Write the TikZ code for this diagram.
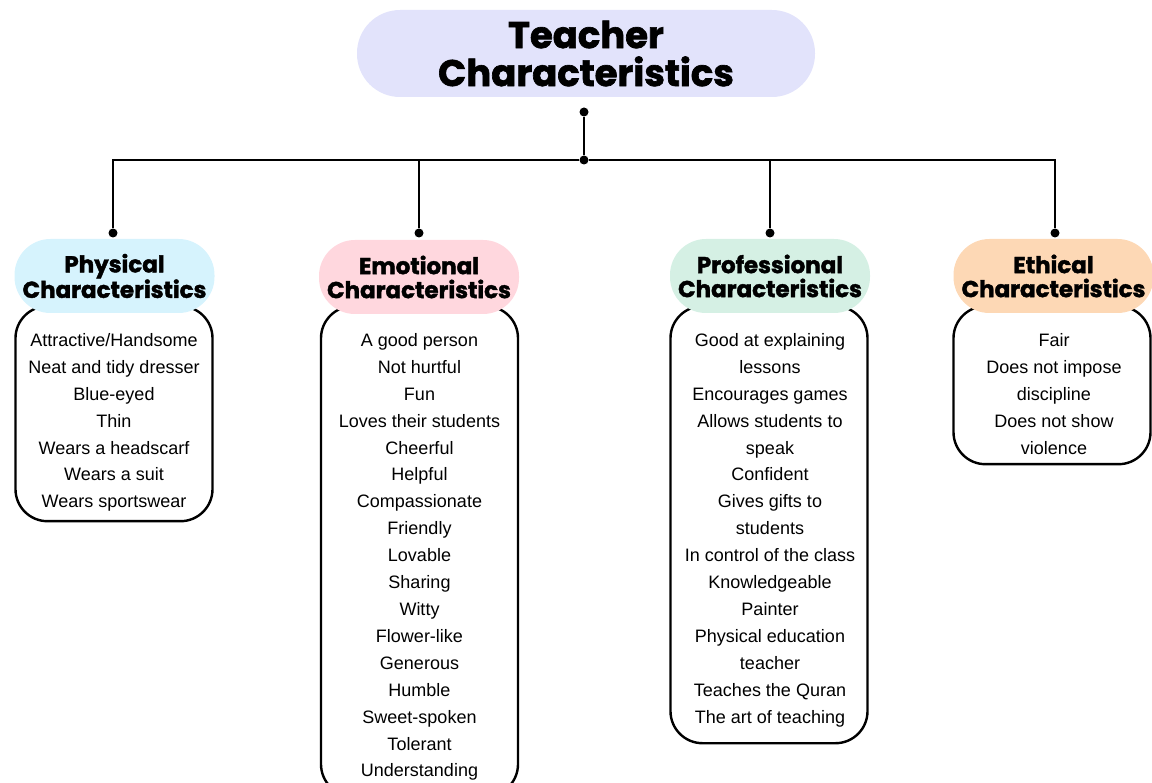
\documentclass[tikz,border=0pt]{standalone}
\usepackage{fontspec}
\setmainfont{Liberation Sans}
\newfontfamily\headfont{Poppins}[BoldFeatures={FakeBold=1.8}]
\usetikzlibrary{positioning, calc}
\definecolor{titlelav}{RGB}{226, 227, 251}
\definecolor{physcyan}{RGB}{214, 243, 253}
\definecolor{emopink}{RGB}{255, 215, 222}
\definecolor{profmint}{RGB}{213, 240, 228}
\definecolor{ethpeach}{RGB}{253, 216, 181}

\begin{document}
\begin{tikzpicture}[x=1pt, y=-1pt,
    head/.style={rounded corners=36pt, minimum width=200pt, minimum height=74pt,
        align=center, inner sep=0pt,
        font=\headfont\bfseries\fontsize{23}{24}\selectfont},
    listbox/.style={draw=black, line width=2.4pt, rounded corners=32pt, fill=white,
        minimum width=197pt, anchor=north, inner sep=0pt},
    item/.style={inner sep=0pt, text height=13pt, text depth=4pt,
        font=\fontsize{18}{20}\selectfont},
    link/.style={line width=2.4pt},
    dot/.style={circle, fill=black, inner sep=0pt, minimum size=9pt}]
    \useasboundingbox (0,0) rectangle (1152,783);
    % Title
    \node[rounded corners=43pt, fill=titlelav, minimum width=458pt, minimum height=87pt,
        align=center, inner sep=0pt,
        font=\headfont\bfseries\fontsize{37}{38}\selectfont]
        (title) at (586,53.5) {Teacher\\Characteristics};
    % Branch points
    \node[dot] (titledot) at (584,112) {};
    \node[dot] (hub) at (584,160) {};
    \node[dot] (physdot) at (113,233) {};
    \node[dot] (emodot) at (419,233) {};
    \node[dot] (profdot) at (770,233) {};
    \node[dot] (ethdot) at (1055,233) {};
    % Connectors
    \draw[link] (titledot) -- (hub);
    \foreach \cat in {physdot, emodot, profdot, ethdot} {
        \draw[link] (hub) -| (\cat);
    }
    % List boxes
    \node[listbox, minimum height=215pt] (physlist) at (114,305) {};
    \node[listbox, minimum height=490pt] (emolist) at (419.5,305) {};
    \node[listbox, minimum height=437pt] (proflist) at (769,305) {};
    \node[listbox, minimum height=158pt] (ethlist) at (1052,305) {};
    % Category headers
    \node[head, fill=physcyan] (phys) at (114.5,276) {Physical\\Characteristics};
    \node[head, fill=emopink] (emo) at (419,277) {Emotional\\Characteristics};
    \node[head, fill=profmint] (prof) at (770,276) {Professional\\Characteristics};
    \node[head, fill=ethpeach] (eth) at (1053.5,276) {Ethical\\Characteristics};
    % Items
    \foreach \txt [count=\i] in {Attractive/Handsome, Neat and tidy dresser, Blue-eyed,
        Thin, Wears a headscarf, Wears a suit, Wears sportswear} {
        \node[item] (phys-\i) at (114, 315.1+26.9*\i) {\txt};
    }
    \foreach \txt [count=\i] in {A good person, Not hurtful, Fun, Loves their students,
        Cheerful, Helpful, Compassionate, Friendly, Lovable, Sharing, Witty, Flower-like,
        Generous, Humble, Sweet-spoken, Tolerant, Understanding} {
        \node[item] (emo-\i) at (419.5, 315.1+26.9*\i) {\txt};
    }
    \foreach \txt [count=\i] in {Good at explaining, lessons, Encourages games,
        Allows students to, speak, Confident, Gives gifts to, students,
        In control of the class, Knowledgeable, Painter, Physical education, teacher,
        Teaches the Quran, The art of teaching} {
        \node[item] (prof-\i) at (770, 315.1+26.9*\i) {\txt};
    }
    \foreach \txt [count=\i] in {Fair, Does not impose, discipline, Does not show,
        violence} {
        \node[item] (eth-\i) at (1054, 315.1+26.9*\i) {\txt};
    }
\end{tikzpicture}
\end{document}
